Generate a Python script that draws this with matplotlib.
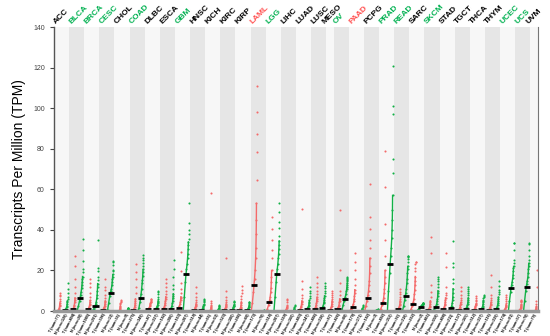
import matplotlib
matplotlib.use("Agg")
import matplotlib.pyplot as plt
import numpy as np

plt.rcParams['font.family'] = ['Liberation Sans', 'DejaVu Sans']

# cancer types, label colours and sample numbers
cancers = ["ACC", "BLCA", "BRCA", "CESC", "CHOL", "COAD", "DLBC", "ESCA", "GBM", "HNSC",
           "KICH", "KIRC", "KIRP", "LAML", "LGG", "LIHC", "LUAD", "LUSC", "MESO", "OV",
           "PAAD", "PCPG", "PRAD", "READ", "SARC", "SKCM", "STAD", "TGCT", "THCA", "THYM",
           "UCEC", "UCS", "UVM"]
name_colors = ["k", "g", "g", "g", "k", "g", "k", "k", "g", "k",
               "k", "k", "k", "r", "g", "k", "k", "k", "k", "g",
               "r", "k", "g", "g", "k", "g", "k", "k", "k", "k",
               "g", "g", "k"]
tumor_num = [77, 404, 1085, 306, 36, 275, 47, 182, 163, 519, 66, 523, 286, 173, 518, 369, 483,
             486, 87, 426, 179, 182, 492, 92, 262, 461, 408, 137, 512, 118, 174, 57, 79]
normal_num = [128, 28, 291, 13, 9, 349, 337, 286, 207, 44, 53, 100, 60, 70, 207, 160, 347,
              338, None, 88, 171, 3, 152, 318, 2, 558, 211, 165, 337, 339, 91, 78, None]

# percentile levels at which each group's TPM values were read
pct = [0, 20, 40, 50, 60, 70, 80, 85, 90, 93, 95, 97, 98, 99, 99.5, 100]

tumor_tpm = [
    [0, 0, 0.1, 0.2, 0.3, 0.5, 1, 1.5, 2.5, 3.2, 4, 5, 6, 7.5, 8, 9],
    [0, 0.2, 0.5, 0.8, 1.1, 1.6, 2.5, 3.2, 4.5, 5.5, 6.5, 9, 12, 16, 22, 27],
    [0, 0.2, 0.5, 0.8, 1.1, 1.5, 2.2, 2.8, 3.6, 4.5, 5.2, 7, 9, 12, 14, 16],
    [0, 0.1, 0.4, 0.6, 0.9, 1.3, 2, 2.6, 3.5, 4.2, 5, 6.5, 8, 10.3, 12, 16],
    [0, 0, 0, 0, 0.1, 0.2, 0.5, 0.8, 1.5, 2, 2.5, 3.5, 4, 4.5, 5, 5.5],
    [0, 0.1, 0.3, 0.5, 0.8, 1.2, 2, 2.8, 4, 5, 6, 9, 12, 16, 19, 23.2],
    [0, 0.3, 0.7, 1, 1.3, 1.7, 2.3, 2.8, 3.4, 3.8, 4.2, 4.6, 5, 5.5, 5.8, 6],
    [0, 0.3, 0.8, 1.2, 1.6, 2.2, 3.2, 4, 5, 6, 7, 8.5, 10, 12, 14, 16],
    [0, 0.4, 1, 1.5, 2, 2.6, 3.5, 4.2, 5.2, 6.2, 7, 9, 11, 14, 19.5, 29.2],
    [0, 0, 0.1, 0.3, 0.5, 0.8, 1.3, 1.8, 2.5, 3, 3.5, 4.5, 5.5, 7, 9, 12],
    [0, 0, 0, 0, 0.1, 0.2, 0.4, 0.6, 1, 1.4, 1.8, 2.5, 3, 4, 5, 58],
    [0, 0, 0.1, 0.3, 0.5, 0.8, 1.3, 1.8, 2.5, 3, 3.5, 4.5, 5.5, 7, 10, 26.3],
    [0, 0.1, 0.3, 0.5, 0.7, 1, 1.6, 2.2, 3, 3.8, 4.5, 6, 7.5, 9, 10.5, 12.5],
    [0, 4, 9.5, 13, 16, 20, 26, 31, 38, 45, 53, 64.5, 78.5, 87.5, 98, 111],
    [0, 1.2, 3, 4.3, 5.5, 7, 9.5, 11.5, 14.5, 17, 20, 26, 30, 35, 40.6, 46.5],
    [0, 0, 0, 0, 0.1, 0.2, 0.4, 0.6, 1, 1.4, 1.8, 2.5, 3.2, 4.5, 5.5, 6],
    [0, 0.1, 0.3, 0.5, 0.8, 1.2, 2, 2.6, 3.5, 4.3, 5, 6.5, 8, 11, 15, 50.2],
    [0, 0.3, 0.7, 1, 1.4, 2, 3, 3.7, 4.8, 5.8, 6.8, 8.5, 10, 12, 14, 17],
    [0, 0.1, 0.3, 0.5, 0.8, 1.2, 2, 2.6, 3.5, 4.3, 5, 6, 7, 8, 9, 10],
    [0, 0.3, 0.7, 1, 1.3, 1.8, 2.6, 3.2, 4.2, 5, 6, 8, 10, 14, 20, 50],
    [0, 0.8, 1.6, 2.1, 2.7, 3.5, 4.8, 5.8, 7.5, 9, 10.5, 13, 16, 20, 24, 28.6],
    [0, 2.5, 5, 6.4, 8, 10, 13, 15, 18.5, 22, 26, 31, 35, 40.6, 46.5, 62.5],
    [0, 1.2, 2.8, 3.8, 5, 6.5, 9, 11, 14, 17, 20, 27, 35, 43, 61, 79],
    [0, 0.2, 0.5, 0.8, 1.1, 1.5, 2.2, 2.8, 3.5, 4.2, 5, 6, 7, 8.5, 9.5, 11],
    [0, 1, 2.4, 3.4, 4.5, 6, 8.5, 10.5, 13, 15, 17, 19.5, 21, 23, 24, 24.3],
    [0, 0.1, 0.3, 0.5, 0.8, 1.2, 2, 2.6, 3.5, 4.3, 5, 7, 9.5, 13, 28.4, 36.6],
    [0, 0.2, 0.6, 0.9, 1.3, 1.8, 2.8, 3.5, 4.6, 5.5, 6.5, 8, 9, 12, 21.8, 28.4],
    [0, 0.1, 0.3, 0.5, 0.7, 1, 1.6, 2, 2.8, 3.5, 4.2, 5.5, 6.5, 8, 10, 12],
    [0, 0.1, 0.3, 0.5, 0.7, 1, 1.4, 1.8, 2.4, 2.9, 3.3, 4, 4.8, 5.5, 6.5, 7.5],
    [0, 0.1, 0.3, 0.5, 0.8, 1.1, 1.7, 2.2, 3, 3.6, 4.3, 5.2, 6.2, 8, 12, 17.8],
    [0, 0, 0.1, 0.2, 0.4, 0.6, 1, 1.4, 2, 2.6, 3.1, 4, 5, 6, 7, 8],
    [0, 0, 0.1, 0.2, 0.4, 0.6, 1, 1.4, 2, 2.5, 3, 3.6, 4.2, 4.8, 5, 5.2],
    [0, 0, 0, 0, 0.1, 0.2, 0.4, 0.6, 1, 1.4, 1.8, 2.5, 3.5, 5, 12, 20],
]

normal_tpm = [
    [0, 0.1, 0.3, 0.5, 0.8, 1.2, 2, 2.6, 3.5, 4.3, 5, 6, 7, 9, 11, 13.8],
    [0.5, 2.5, 5, 6.5, 8, 9.5, 11.5, 13, 14.5, 16, 17, 19, 20.5, 24.5, 30, 35.5],
    [0.2, 0.9, 1.9, 2.6, 3.4, 4.6, 6.5, 8, 10, 12, 13.5, 15.5, 17, 19.5, 21.3, 35],
    [0.5, 4, 7.5, 9, 10, 11, 13, 14.5, 16, 17, 18, 19.5, 20.4, 22.5, 24, 24.6],
    [0, 0, 0, 0, 0, 0.1, 0.2, 0.3, 0.5, 0.7, 0.8, 1, 1.2, 1.4, 1.5, 1.5],
    [0, 1.5, 4.5, 6.5, 8.5, 11, 14, 15.5, 17.5, 19, 20.5, 22, 23.5, 25, 26, 27.6],
    [0, 0.3, 0.7, 1, 1.3, 1.8, 2.5, 3, 3.8, 4.4, 5, 6, 7, 8.5, 9.5, 10],
    [0, 0.3, 0.8, 1.2, 1.7, 2.5, 4, 5, 6.5, 7.5, 8.5, 11, 13, 16.7, 20.7, 25],
    [0, 7, 14.5, 18, 20.5, 23, 26, 28, 30.5, 32.5, 34, 35.5, 38, 40, 43.5, 53.4],
    [0, 0, 0.1, 0.3, 0.5, 0.8, 1.2, 1.6, 2.2, 2.6, 3, 3.6, 4.2, 5, 5.5, 6],
    [0, 0, 0, 0, 0.1, 0.2, 0.3, 0.5, 0.8, 1, 1.2, 1.6, 2, 2.4, 2.7, 3],
    [0, 0, 0.1, 0.3, 0.5, 0.7, 1.1, 1.5, 2, 2.4, 2.7, 3.2, 3.6, 4.2, 4.6, 5],
    [0, 0, 0.1, 0.3, 0.5, 0.7, 1, 1.3, 1.8, 2.1, 2.4, 2.9, 3.3, 3.8, 4.2, 4.5],
    [0, 0, 0, 0, 0, 0, 0, 0, 0, 0, 0.1, 0.1, 0.2, 0.2, 0.3, 0.3],
    [0, 7, 14.5, 18, 20.5, 23, 26, 28, 30.5, 32.5, 34.5, 37, 40.7, 44, 49, 53.2],
    [0, 0, 0, 0, 0, 0.1, 0.2, 0.3, 0.5, 0.7, 0.9, 1.2, 1.5, 2, 2.5, 3],
    [0, 0.3, 0.7, 1, 1.3, 1.8, 2.5, 3, 3.8, 4.5, 5.2, 6.5, 7.5, 9, 10, 12],
    [0, 0.5, 1.1, 1.5, 2, 2.7, 3.7, 4.4, 5.5, 6.5, 7.5, 9, 10, 11.5, 12.5, 14],
    None,
    [0.5, 3, 5, 5.9, 7, 8.2, 9.8, 10.8, 12, 13, 13.8, 14.8, 15.4, 16, 16.4, 16.7],
    [0, 0, 0, 0, 0, 0.1, 0.2, 0.3, 0.5, 0.7, 0.9, 1.2, 1.5, 2, 2.5, 3],
    [0, 0, 0.1, 0.2, 0.2, 0.3, 0.4, 0.4, 0.5, 0.5, 0.6, 0.6, 0.7, 0.7, 0.8, 0.8],
    [0, 10, 18.5, 23, 27, 31, 36, 40, 45, 50, 57, 68, 75, 97, 101, 120.7],
    [0, 2.5, 5.5, 7.4, 9, 11, 14, 16, 18.5, 20.5, 22, 24, 25.5, 26.7, 27, 27.3],
    [0.5, 1.1, 1.8, 2.1, 2.4, 2.7, 3.1, 3.2, 3.4, 3.5, 3.6, 3.6, 3.7, 3.7, 3.7, 3.7],
    [0, 0.6, 1.4, 2, 2.6, 3.4, 4.8, 5.8, 7.3, 8.8, 10, 12, 13.5, 15, 16, 17],
    [0, 0.3, 0.9, 1.3, 1.8, 2.6, 4, 5.2, 7, 9, 11, 14, 16, 21.8, 23.5, 34.6],
    [0, 0.3, 0.8, 1.1, 1.5, 2, 2.9, 3.6, 4.6, 5.6, 6.5, 8, 9, 10, 11, 11.7],
    [0, 0.2, 0.5, 0.8, 1.1, 1.5, 2.2, 2.7, 3.5, 4.2, 4.8, 5.6, 6.3, 7, 7.5, 7.9],
    [0, 0.3, 0.7, 1, 1.4, 2, 3, 3.7, 4.8, 5.8, 6.8, 8.2, 9.3, 10.5, 12.5, 15],
    [0, 5, 9.5, 11.5, 13, 14.5, 16.5, 17.8, 19.5, 21, 22, 23.5, 25.2, 30, 33.3, 33.5],
    [0, 5, 10, 12, 13.5, 15, 17, 18.5, 20.5, 22, 23.5, 25, 27, 30, 33, 33.5],
    None,
]

RED = "#f46a6a"
GREEN = "#12b046"
label_rgb = {"k": "black", "g": "#00b050", "r": "#ff5050"}

fig = plt.figure(figsize=(5.5, 3.36), dpi=100)
ax = fig.add_axes([0.098, 0.0744, 0.88, 0.8452])

p = np.array(pct)
body = p <= 95
x = 0
ticks, ticklabels = [], []
for i, name in enumerate(cancers):
    groups = [("T", tumor_tpm[i], tumor_num[i], RED)]
    if normal_tpm[i] is not None:
        groups.append(("N", normal_tpm[i], normal_num[i], GREEN))
    ax.axvspan(x, x + len(groups), color="#e6e6e6" if i % 2 else "#f7f7f7", lw=0, zorder=0)
    ax.text(x + len(groups) / 2 - 0.5, 141, name, rotation=45, rotation_mode="anchor",
            ha="left", va="bottom", fontsize=6, fontweight="bold",
            color=label_rgb[name_colors[i]])
    for tag, vals, num, col in groups:
        vals = np.array(vals, dtype=float)
        xs = x + 0.1 + p / 100 * 0.72
        ax.plot(xs[body], vals[body], color=col, lw=1.0, zorder=2, clip_on=False)
        ax.plot(xs, vals, "o", ms=1.5, color=col, mec="none", zorder=2, clip_on=False)
        med = vals[pct.index(50)]
        ax.plot([x + 0.1, x + 0.9], [med, med], color="black", lw=2,
                solid_capstyle="butt", zorder=3, clip_on=False)
        ticks.append(x + 0.5)
        ticklabels.append(f"{tag} (num={num})")
        x += 1

ax.set_xlim(0, x)
ax.set_ylim(0, 140)
ax.set_yticks(np.arange(0, 141, 20))
ax.tick_params(axis="y", labelsize=5, colors="#444444", length=3, width=0.8)
ax.set_xticks(ticks)
ax.set_xticklabels(ticklabels, rotation=62, ha="right", rotation_mode="anchor",
                   fontsize=2.7, fontweight="bold")
ax.tick_params(axis="x", length=0, pad=1.5)
ax.set_ylabel("Transcripts Per Million (TPM)", fontsize=10, labelpad=5)

ax.spines["top"].set_visible(False)
ax.spines["left"].set_color("#555555")
ax.spines["left"].set_linewidth(1.0)
ax.spines["right"].set_color("#777777")
ax.spines["right"].set_linewidth(0.8)
ax.spines["bottom"].set_color("#999999")
ax.spines["bottom"].set_linewidth(2.5)
ax.spines["bottom"].set_zorder(4)

fig.savefig("out.png", dpi=100)
